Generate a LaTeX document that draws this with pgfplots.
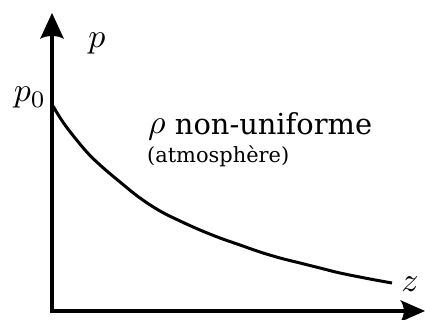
\documentclass[border=0pt]{standalone}
\usepackage{pgfplots}
\pgfplotsset{compat=1.18}
\usepackage{fontspec}
\setmainfont{DejaVu Serif}
\begin{document}
\begin{tikzpicture}
\begin{axis}[width=425bp, height=320bp, scale only axis,
  xmin=0, xmax=425, ymin=0, ymax=320, hide axis, clip=false]
\coordinate (ll) at (axis cs:0,0);
\coordinate (ur) at (axis cs:425,320);
% axes
\draw[line width=3.6bp] (axis cs:50,9) -- (axis cs:408,9);
\fill (axis cs:425,9) -- (axis cs:400,20) .. controls (axis cs:405,14) and (axis cs:405,4) .. (axis cs:400,-2) -- cycle;
\draw[line width=3.6bp] (axis cs:52,7) -- (axis cs:52,290);
\fill (axis cs:52,307) -- (axis cs:40,281) .. controls (axis cs:46,285) and (axis cs:58,285) .. (axis cs:64,281) -- cycle;
% curve
\addplot[black, line width=3bp, smooth, tension=0.6] coordinates {
(53,214) (65,195) (85,170) (100,155) (120,138) (140,122) (160,109) (180,99) (200,90) (220,82) (240,75) (260,68) (280,62) (300,57) (320,52) (340,47) (370,41) (392,37)};
% labels
\node at (axis cs:97,276) {\scalebox{3.4}{$p$}};
\node at (axis cs:30,222) {\scalebox{3.4}{$p_{0}$}};
\node at (axis cs:410,36) {\scalebox{3.4}{$z$}};
\node[anchor=base west, inner sep=0pt] at (axis cs:148,186) {\scalebox{3.4}{$\rho$}\fontsize{29}{33}\selectfont\ non-uniforme};
\node[anchor=base west, inner sep=0pt, font=\fontsize{21}{24}\selectfont] at (axis cs:147,158) {(atmosphère)};
\end{axis}
\pgfresetboundingbox
\useasboundingbox (ll) rectangle (ur);
\end{tikzpicture}
\end{document}
